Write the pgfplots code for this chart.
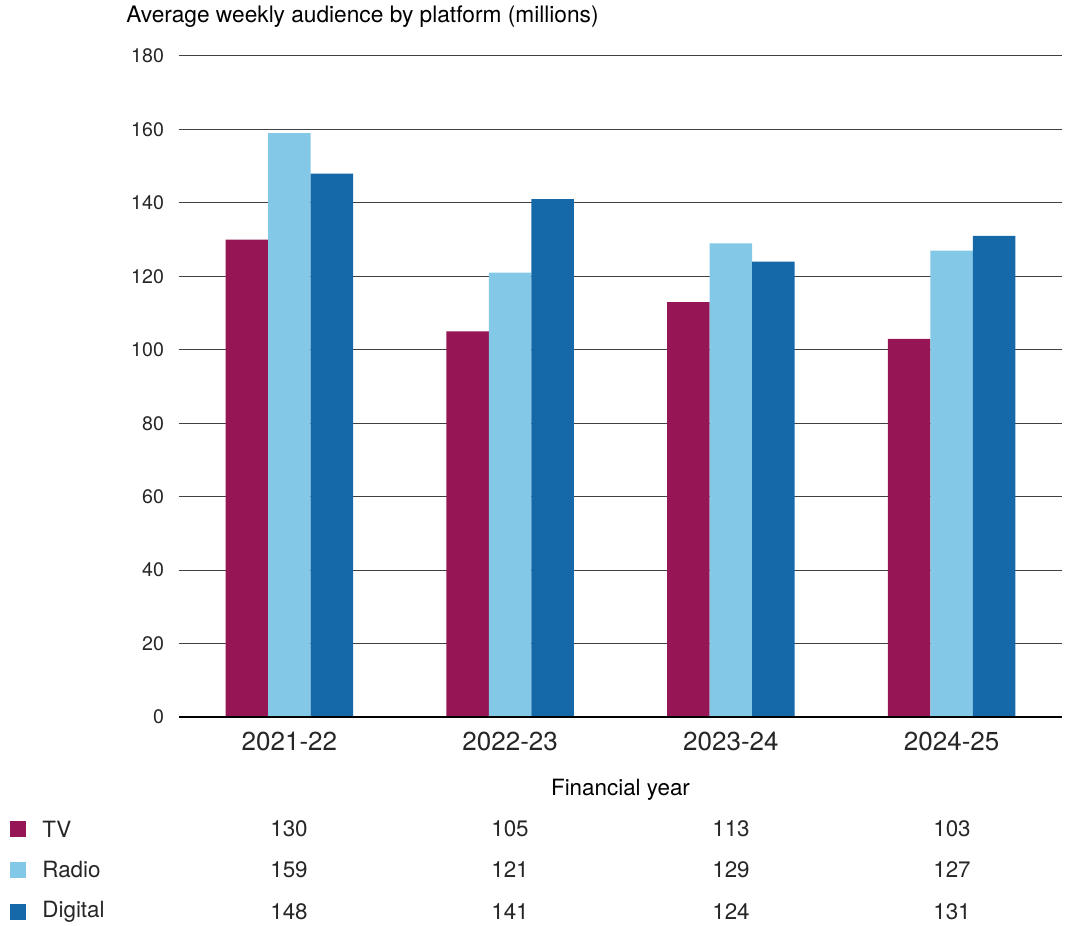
\documentclass[border=0pt]{standalone}
\usepackage{pgfplots}
\pgfplotsset{compat=1.18}
\usepackage{fontspec}
\setmainfont{TeX Gyre Heros}
\definecolor{tvc}{RGB}{150,21,85}
\definecolor{radioc}{RGB}{132,200,232}
\definecolor{digitalc}{RGB}{21,105,168}
\begin{document}
\begin{tikzpicture}
\path[use as bounding box] (0,0) rectangle (536pt,463pt);
\begin{axis}[
  scale only axis,
  width=441.5pt, height=330.5pt,
  at={(89.5pt,104.5pt)}, anchor=south west,
  ybar=0pt, bar width=21.25pt,
  xmin=-0.5, xmax=3.5, ymin=0, ymax=180,
  xtick={0,1,2,3},
  xticklabels={2021-22,2022-23,2023-24,2024-25},
  ytick={0,20,...,180},
  axis line style={draw=none},
  major tick length=0pt,
  ymajorgrids,
  grid style={black!75, line width=0.5pt},
  /pgf/number format/assume math mode=true,
  yticklabel style={font=\fontsize{9.8}{11}\selectfont, color=black!85, xshift=-4pt},
  xticklabel style={font=\fontsize{13}{15}\selectfont, color=black!85, yshift=-4pt},
  xlabel={Financial year},
  xlabel style={font=\fontsize{11.2}{13}\selectfont, at={(axis description cs:0.5,0)}, anchor=center, yshift=-36.5pt},
  clip=false,
]
\addplot[fill=tvc, draw=none] coordinates {(0,130) (1,105) (2,113) (3,103)};
\addplot[fill=radioc, draw=none] coordinates {(0,159) (1,121) (2,129) (3,127)};
\addplot[fill=digitalc, draw=none] coordinates {(0,148) (1,141) (2,124) (3,131)};
\draw[black, line width=0.6pt] (axis cs:-0.5,0) -- (axis cs:3.5,0);
\end{axis}
\node[anchor=west, inner sep=0pt, font=\fontsize{11.35}{13}\selectfont] at (63pt,454.5pt) {Average weekly audience by platform (millions)};
% table
\foreach \y/\c/\lab in {48.5/tvc/TV, 28/radioc/Radio, 7/digitalc/Digital}{
  \fill[\c] (5pt,\y pt-4pt) rectangle (13pt,\y pt+4pt);
  \node[anchor=west, inner sep=0pt, font=\fontsize{11.2}{13}\selectfont, color=black!85] at (21pt,\y pt) {\lab};
}
\foreach \x/\a/\b/\c in {144.5/130/159/148, 255/105/121/141, 365.5/113/129/124, 476/103/127/131}{
  \node[font=\fontsize{11.2}{13}\selectfont, color=black!85] at (\x pt,48.5pt) {\a};
  \node[font=\fontsize{11.2}{13}\selectfont, color=black!85] at (\x pt,28pt) {\b};
  \node[font=\fontsize{11.2}{13}\selectfont, color=black!85] at (\x pt,7pt) {\c};
}
\end{tikzpicture}
\end{document}
